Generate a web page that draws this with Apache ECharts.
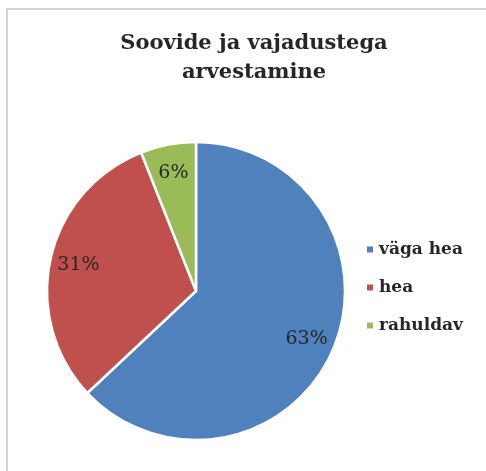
<!DOCTYPE html>
<html>
<head>
<meta charset="utf-8">
<style>
  html, body { margin: 0; padding: 0; background: #fff; }
  #main { width: 486px; height: 471px; }
</style>
<script src="https://cdn.jsdelivr.net/npm/echarts@6/dist/echarts.min.js"></script>
</head>
<body>
<div id="main"></div>
<script>
// andmed
var categories = ['väga hea', 'hea', 'rahuldav'];
var shares = [63, 31, 6];
var colors = ['#4F81BD', '#C0504D', '#9BBB59'];
var titleText = 'Soovide ja vajadustega\narvestamine';

var serif = '"DejaVu Serif", "Liberation Serif", serif';

var pieData = categories.map(function (name, i) {
  return { name: name, value: shares[i], itemStyle: { color: colors[i] } };
});

var myChart = echarts.init(document.getElementById('main'));
myChart.setOption({
  animation: false,
  title: {
    text: titleText,
    left: 249,
    textAlign: 'center',
    top: 24,
    textStyle: {
      fontFamily: serif,
      fontWeight: 'bold',
      fontSize: 21,
      lineHeight: 29,
      color: '#262626'
    }
  },
  legend: {
    orient: 'vertical',
    left: 360,
    top: 236,
    icon: 'rect',
    itemWidth: 8,
    itemHeight: 8,
    itemGap: 21,
    data: categories,
    textStyle: {
      fontFamily: serif,
      fontWeight: 'bold',
      fontSize: 17,
      color: '#262626'
    }
  },
  graphic: [{
    type: 'polyline',
    shape: { points: [[7, 480], [7, 9], [490, 9]] },
    style: { fill: 'none', stroke: '#d4d4d4', lineWidth: 2 },
    silent: true,
    z: -1
  }],
  series: [{
    type: 'pie',
    center: [196, 291],
    radius: [0, 149],
    startAngle: 90,
    clockwise: true,
    data: pieData,
    itemStyle: { borderColor: '#fff', borderWidth: 2.5 },
    label: { show: false },
    labelLine: { show: false },
    silent: true
  }, {
    // nähtamatu rõngas protsendisiltide paigutamiseks
    type: 'pie',
    center: [196, 291],
    radius: [86, 149],
    startAngle: 90,
    clockwise: true,
    data: pieData.map(function (d) {
      return { name: d.name, value: d.value, itemStyle: { color: 'rgba(0,0,0,0)' } };
    }),
    legendHoverLink: false,
    label: {
      show: true,
      position: 'inside',
      formatter: '{c}%',
      fontFamily: serif,
      fontSize: 19,
      color: '#262626'
    },
    labelLine: { show: false },
    silent: true
  }]
});
</script>
</body>
</html>
